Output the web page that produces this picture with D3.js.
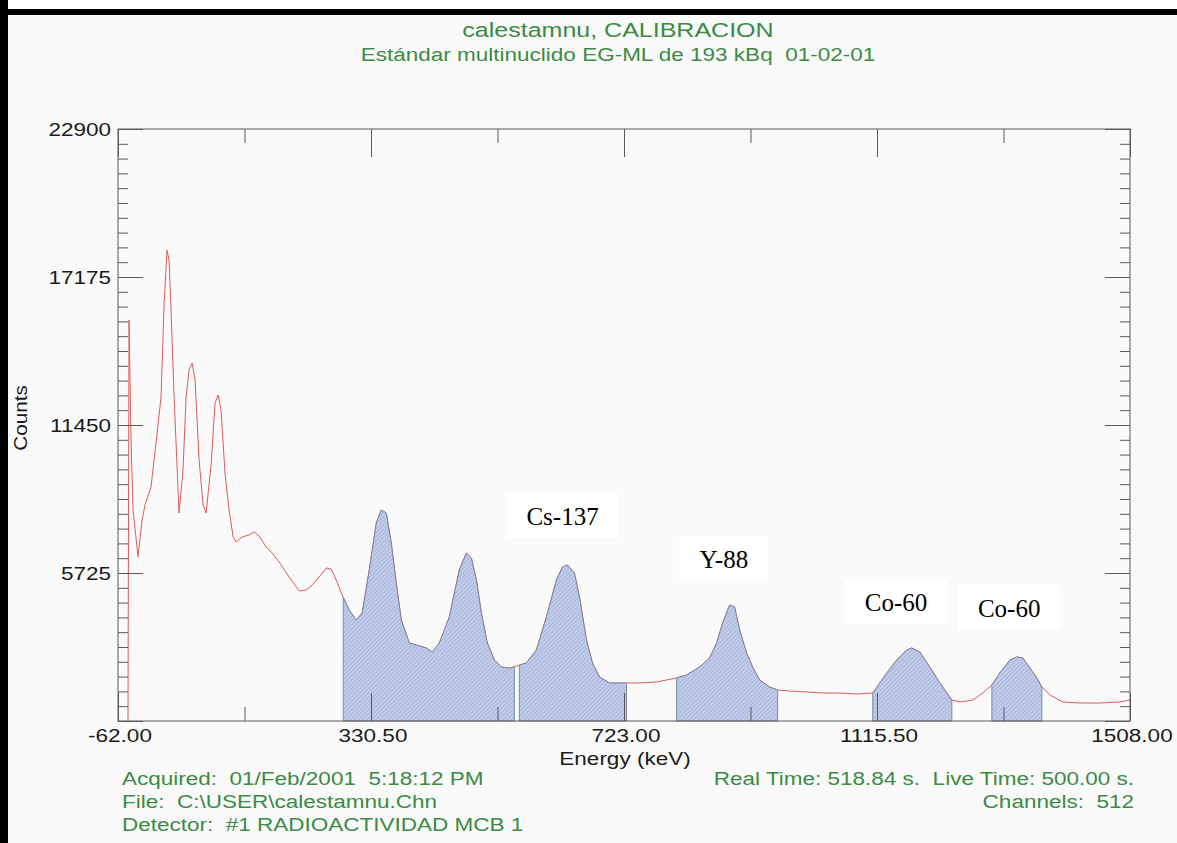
<!DOCTYPE html>
<html><head><meta charset="utf-8">
<script src="https://cdn.jsdelivr.net/npm/d3@7"></script>
<style>html,body{margin:0;padding:0;background:#fafafa;}svg{display:block;}text{white-space:pre;}</style>
</head><body>
<svg id="chart" width="1177" height="843"></svg>
<script>
// ---- data ----
const energy = [-46.5,-44.9,-41.8,-38.7,-30.9,-24.7,-20.1,-10.8,-3.0,4.8,9.4,14.1,17.2,20.3,25.0,32.7,38.9,43.6,48.3,52.9,57.6,63.8,70.0,74.7,82.4,88.6,93.3,97.9,104.2,110.4,116.6,121.2,130.6,141.4,149.2,157.0,167.8,177.2,188.0,203.5,219.1,229.9,239.3,250.1,261.0,268.8,276.5,285.8,296.7,307.6,316.9,327.8,338.7,346.4,354.2,361.9,369.7,377.5,389.9,400.8,416.3,425.6,436.5,452.0,467.5,478.4,486.2,494.0,501.7,511.0,521.9,532.8,545.2,553.0,560.7,571.6,587.1,602.6,618.2,627.5,635.3,646.1,653.9,664.8,674.1,685.0,700.5,716.0,726.9,747.1,773.5,789.0,804.5,820.1,840.3,855.8,866.7,876.0,886.9,894.6,902.4,913.2,922.6,933.4,949.0,961.4,980.0,1006.4,1031.3,1057.7,1084.1,1108.9,1119.8,1130.7,1146.2,1161.7,1169.5,1181.9,1197.4,1213.0,1231.6,1244.0,1264.2,1279.7,1293.7,1306.1,1321.6,1332.5,1341.8,1352.7,1363.6,1371.3,1383.7,1404.0,1430.4,1461.4,1492.5,1508.0];
const counts = [0,15511,10870,8162,6344,7775,8355,9052,10754,12533,16092,18219,17833,15898,12533,8046,9709,12533,13577,13848,13191,10096,8355,8046,9903,12301,12610,12030,9516,8162,7117,6924,7117,7195,7311,7156,6731,6499,6150,5570,5029,5067,5261,5570,5918,5880,5454,4874,4294,3907,4178,5841,7659,8162,8046,6885,5338,3907,3017,2940,2824,2669,3017,4023,5841,6499,6305,5454,4178,3017,2360,2089,2050,2089,2166,2244,2746,4023,5454,5957,6034,5725,4797,3133,2244,1702,1470,1470,1470,1470,1509,1586,1663,1779,2089,2437,3017,3791,4487,4410,3520,2630,2089,1586,1315,1199,1160,1122,1083,1083,1044,1083,1470,1857,2360,2746,2824,2669,2089,1470,812,735,812,1083,1393,1857,2360,2476,2437,2050,1663,1315,1006,735,696,696,735,812];
const roiStart = [287.4, 560.7, 804.5, 1108.9, 1293.7];
const roiEnd   = [553.0, 726.9, 961.4, 1231.6, 1371.3];
const yTicks = [0, 5725, 11450, 17175, 22900];
const xTicks = [-62, 330.5, 723, 1115.5, 1508];
const nuclides = ["Cs-137", "Y-88", "Co-60", "Co-60"];
const nuclideE = [571.6, 840.2, 1096.5, 1272.0];
const nuclideC = [7582, 5918, 4255, 4023];
const titleLines = ["calestamnu, CALIBRACION", "Estándar multinuclido EG-ML de 193 kBq  01-02-01"];
const footLeft = ["Acquired:  01/Feb/2001  5:18:12 PM", "File:  C:\\USER\\calestamnu.Chn", "Detector:  #1 RADIOACTIVIDAD MCB 1"];
const footRight = ["Real Time: 518.84 s.  Live Time: 500.00 s.", "Channels:  512"];

// ---- drawing ----
const svg = d3.select("#chart");
const W = 1177, H = 843;
const L = 118, R = 1130, T = 129, B = 721;
const x = d3.scaleLinear().domain([-62, 1508]).range([L, R]);
const y = d3.scaleLinear().domain([0, 22900]).range([B, T]);
const green = "#3b8a45";
const sans = "'Liberation Sans', Arial, sans-serif";
const K = 1.25;
const fmt2 = d3.formatLocale({decimal: ".", thousands: "", grouping: [3], currency: ["", ""], minus: "-"}).format(".2f");

function stretch(sel, k) {
  sel.each(function () {
    const t = d3.select(this);
    const anchor = t.attr("text-anchor") || "start";
    const len = this.getComputedTextLength();
    const nx0 = +t.attr("x") || 0;
    const nl = len * k;
    const nx = anchor === "middle" ? nx0 - nl / 2 : anchor === "end" ? nx0 - nl : nx0;
    t.attr("text-anchor", "start").attr("x", nx).attr("textLength", nl).attr("lengthAdjust", "spacingAndGlyphs");
  });
}

svg.append("rect").attr("width", W).attr("height", H).attr("fill", "#fafafa");
svg.append("rect").attr("width", W).attr("height", 9).attr("fill", "#ffffff");
svg.append("rect").attr("x", 0).attr("y", 9).attr("width", W).attr("height", 6).attr("fill", "#000");
svg.append("rect").attr("x", 0).attr("y", 0).attr("width", 8).attr("height", H).attr("fill", "#000");

const defs = svg.append("defs");
const pat = defs.append("pattern").attr("id", "hatch").attr("patternUnits", "userSpaceOnUse")
  .attr("width", 3).attr("height", 3).attr("patternTransform", "rotate(45)");
pat.append("rect").attr("width", 3).attr("height", 3).attr("fill", "#c2cde9");
pat.append("line").attr("x1", 0.5).attr("y1", 0).attr("x2", 0.5).attr("y2", 3).attr("stroke", "#9fafd8").attr("stroke-width", 0.8);

// titles
svg.selectAll("text.title").data(titleLines).join("text")
  .attr("class", "title").attr("x", 618).attr("y", (d, i) => i === 0 ? 37 : 61)
  .attr("text-anchor", "middle").attr("font-family", sans)
  .attr("font-size", (d, i) => i === 0 ? 20 : 18).attr("fill", green).text(d => d)
  .call(stretch, K);

// spectrum
const pts = energy.map((e, i) => [e, counts[i]]);
function interp(e) {
  for (let i = 1; i < pts.length; i++) {
    if (pts[i][0] >= e) {
      const a = pts[i - 1], b = pts[i];
      const t = (e - a[0]) / (b[0] - a[0] || 1);
      return a[1] + t * (b[1] - a[1]);
    }
  }
  return pts[pts.length - 1][1];
}
const line = d3.line().x(d => x(d[0])).y(d => y(d[1]));
svg.append("path").attr("d", line(pts)).attr("fill", "none").attr("stroke", "#e25a58").attr("stroke-width", 1);

const area = d3.area().x(d => x(d[0])).y0(y(0)).y1(d => y(d[1]));
roiStart.forEach((s, i) => {
  const e = roiEnd[i];
  const seg = [[s, interp(s)]].concat(pts.filter(p => p[0] > s && p[0] < e)).concat([[e, interp(e)]]);
  svg.append("path").attr("d", area(seg)).attr("fill", "url(#hatch)")
    .attr("stroke", "#74809f").attr("stroke-width", 0.9);
});

// label boxes + nuclide labels
nuclides.forEach((n, i) => {
  const g = svg.append("g");
  const t = g.append("text").attr("x", x(nuclideE[i])).attr("y", y(nuclideC[i]))
    .attr("font-family", "'Liberation Serif', 'Times New Roman', serif").attr("font-size", 25)
    .attr("fill", "#000").text(n);
  const bb = t.node().getBBox();
  g.insert("rect", "text").attr("x", bb.x - 20).attr("y", bb.y - 10)
    .attr("width", bb.width + 40).attr("height", bb.height + 18).attr("fill", "#ffffff");
});

// frame
const axisColor = "#5a5a5a";
svg.append("rect").attr("x", L).attr("y", T).attr("width", R - L).attr("height", B - T)
  .attr("fill", "none").attr("stroke", axisColor).attr("stroke-width", 1);

const yMinor = d3.range(0, 22900 + 1, 572.5);
const xMinor = d3.range(-62, 1508 + 1, 196.25);

function ticks(axisGen, vals, size, tr) {
  const g = svg.append("g").attr("transform", tr)
    .call(axisGen.tickValues(vals).tickSize(size).tickFormat(""));
  g.select(".domain").remove();
  g.selectAll("line").attr("stroke", axisColor);
  return g;
}
ticks(d3.axisLeft(y), yMinor, -10, `translate(${L},0)`);
ticks(d3.axisLeft(y), yTicks, -25, `translate(${L},0)`);
ticks(d3.axisRight(y), yMinor, -10, `translate(${R},0)`);
ticks(d3.axisRight(y), yTicks, -25, `translate(${R},0)`);
ticks(d3.axisTop(x), xMinor, -14, `translate(0,${T})`);
ticks(d3.axisTop(x), xTicks, -28, `translate(0,${T})`);
ticks(d3.axisBottom(x), xMinor, -14, `translate(0,${B})`);
ticks(d3.axisBottom(x), xTicks, -28, `translate(0,${B})`);

// tick labels
svg.selectAll("text.ylab").data(yTicks.filter(v => v > 0)).join("text")
  .attr("class", "ylab").attr("x", L - 7).attr("y", d => y(d) + 6.5)
  .attr("text-anchor", "end").attr("font-family", sans).attr("font-size", 18).attr("fill", "#1a1a1a")
  .text(d => d3.format("d")(d)).call(stretch, K);
svg.selectAll("text.xlab").data(xTicks).join("text")
  .attr("class", "xlab").attr("x", d => x(d) + 2).attr("y", B + 21)
  .attr("text-anchor", "middle").attr("font-family", sans).attr("font-size", 18).attr("fill", "#1a1a1a")
  .text(d => fmt2(d)).call(stretch, K);

// axis titles
svg.append("text").attr("x", 625).attr("y", 765).attr("text-anchor", "middle")
  .attr("font-family", sans).attr("font-size", 18).attr("fill", "#1a1a1a").text("Energy (keV)").call(stretch, K);
svg.append("g").attr("transform", "translate(27,418) rotate(-90)")
  .append("text").attr("x", 0).attr("y", 0).attr("text-anchor", "middle")
  .attr("font-family", sans).attr("font-size", 18).attr("fill", "#1a1a1a").text("Counts").call(stretch, 1.15);

// footer
svg.selectAll("text.fl").data(footLeft).join("text").attr("class", "fl")
  .attr("x", 122).attr("y", (d, i) => 785 + i * 23).attr("font-family", sans).attr("font-size", 18)
  .attr("fill", green).text(d => d).call(stretch, K);
svg.selectAll("text.fr").data(footRight).join("text").attr("class", "fr")
  .attr("x", 1134).attr("y", (d, i) => 785 + i * 23).attr("text-anchor", "end").attr("font-family", sans).attr("font-size", 18)
  .attr("fill", green).text(d => d).call(stretch, K);
</script>
</body></html>
